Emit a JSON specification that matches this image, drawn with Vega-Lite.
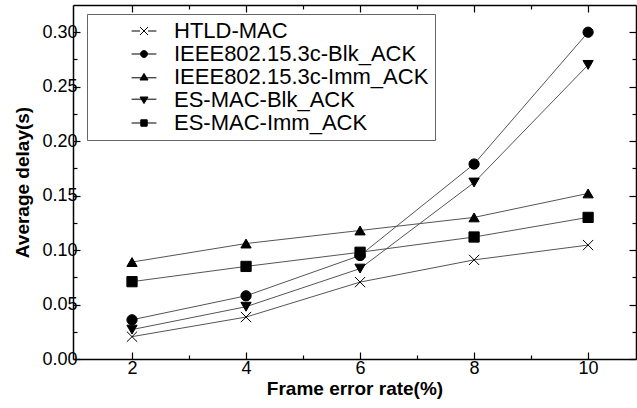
{
  "$schema": "https://vega.github.io/schema/vega-lite/v6.json",
  "width": 563,
  "height": 354,
  "autosize": {"type": "none"},
  "padding": {"left": 73, "top": 5, "right": 1, "bottom": 49},
  "background": "white",
  "config": {
    "view": {"stroke": null},
    "font": "Liberation Sans",
    "axis": {
      "domainColor": "black",
      "domainWidth": 1.5,
      "tickColor": "black",
      "tickWidth": 1.2,
      "grid": false,
      "labelFont": "Liberation Sans",
      "labelFontSize": 18,
      "labelColor": "black",
      "titleFont": "Liberation Sans",
      "titleFontSize": 19,
      "titleFontWeight": "bold",
      "titleColor": "black"
    },
    "legend": {
      "labelFont": "Liberation Sans",
      "labelFontSize": 22,
      "labelColor": "black",
      "labelLimit": 500
    }
  },
  "data": {
    "values": [
      {"x": 2, "y": 0.0205, "s": "HTLD-MAC"},
      {"x": 4, "y": 0.0385, "s": "HTLD-MAC"},
      {"x": 6, "y": 0.0706, "s": "HTLD-MAC"},
      {"x": 8, "y": 0.091, "s": "HTLD-MAC"},
      {"x": 10, "y": 0.1046, "s": "HTLD-MAC"},
      {"x": 2, "y": 0.036, "s": "IEEE802.15.3c-Blk_ACK"},
      {"x": 4, "y": 0.058, "s": "IEEE802.15.3c-Blk_ACK"},
      {"x": 6, "y": 0.095, "s": "IEEE802.15.3c-Blk_ACK"},
      {"x": 8, "y": 0.179, "s": "IEEE802.15.3c-Blk_ACK"},
      {"x": 10, "y": 0.300, "s": "IEEE802.15.3c-Blk_ACK"},
      {"x": 2, "y": 0.089, "s": "IEEE802.15.3c-Imm_ACK"},
      {"x": 4, "y": 0.106, "s": "IEEE802.15.3c-Imm_ACK"},
      {"x": 6, "y": 0.118, "s": "IEEE802.15.3c-Imm_ACK"},
      {"x": 8, "y": 0.130, "s": "IEEE802.15.3c-Imm_ACK"},
      {"x": 10, "y": 0.152, "s": "IEEE802.15.3c-Imm_ACK"},
      {"x": 2, "y": 0.027, "s": "ES-MAC-Blk_ACK"},
      {"x": 4, "y": 0.048, "s": "ES-MAC-Blk_ACK"},
      {"x": 6, "y": 0.083, "s": "ES-MAC-Blk_ACK"},
      {"x": 8, "y": 0.162, "s": "ES-MAC-Blk_ACK"},
      {"x": 10, "y": 0.270, "s": "ES-MAC-Blk_ACK"},
      {"x": 2, "y": 0.071, "s": "ES-MAC-Imm_ACK"},
      {"x": 4, "y": 0.085, "s": "ES-MAC-Imm_ACK"},
      {"x": 6, "y": 0.098, "s": "ES-MAC-Imm_ACK"},
      {"x": 8, "y": 0.112, "s": "ES-MAC-Imm_ACK"},
      {"x": 10, "y": 0.130, "s": "ES-MAC-Imm_ACK"}
    ]
  },
  "layer": [
    {
      "mark": {"type": "line", "color": "#555555", "strokeWidth": 1},
      "encoding": {
        "x": {
          "field": "x", "type": "quantitative",
          "scale": {"domain": [0.965, 10.84], "nice": false, "zero": false},
          "axis": {
            "orient": "bottom",
            "title": "Frame error rate(%)",
            "values": [2, 3, 4, 5, 6, 7, 8, 9, 10],
            "labelExpr": "datum.value % 2 == 0 ? datum.label : ''",
            "tickSize": {"condition": {"test": "datum.value % 2 == 0", "value": -7}, "value": -4},
            "labelPadding": 7,
            "titlePadding": 2
          }
        },
        "y": {
          "field": "y", "type": "quantitative",
          "scale": {"domain": [0, 0.325], "nice": false},
          "axis": {
            "orient": "left",
            "title": "Average delay(s)",
            "values": [0, 0.025, 0.05, 0.075, 0.1, 0.125, 0.15, 0.175, 0.2, 0.225, 0.25, 0.275, 0.3],
            "labelExpr": "round(datum.value * 1000) % 50 == 0 ? format(datum.value, '.2f') : ''",
            "tickSize": {"condition": {"test": "round(datum.value * 1000) % 50 == 0", "value": -7}, "value": -4},
            "labelPadding": 3,
            "titlePadding": 9
          }
        },
        "detail": {"field": "s"}
      }
    },
    {
      "mark": {"type": "point", "filled": true, "fill": "black", "stroke": "black", "strokeWidth": 1, "opacity": 1, "size": 105},
      "encoding": {
        "x": {"field": "x", "type": "quantitative", "axis": null},
        "y": {"field": "y", "type": "quantitative", "axis": null},
        "shape": {
          "field": "s",
          "scale": {
            "domain": ["HTLD-MAC", "IEEE802.15.3c-Blk_ACK", "IEEE802.15.3c-Imm_ACK", "ES-MAC-Blk_ACK", "ES-MAC-Imm_ACK"],
            "range": ["M-1,-1L1,1M-1,1L1,-1", "circle", "triangle-up", "triangle-down", "square"]
          },
          "legend": null
        }
      }
    },
    {
      "mark": {"type": "point", "filled": true, "fill": "black", "stroke": "black", "strokeWidth": 1, "opacity": 0, "size": 64},
      "encoding": {
        "x": {
          "field": "x", "type": "quantitative",
          "axis": {
            "orient": "top", "title": null, "labels": false,
            "values": [2, 3, 4, 5, 6, 7, 8, 9, 10],
            "tickSize": {"condition": {"test": "datum.value % 2 == 0", "value": -7}, "value": -4}
          }
        },
        "y": {
          "field": "y", "type": "quantitative",
          "axis": {
            "orient": "right", "title": null, "labels": false,
            "values": [0, 0.025, 0.05, 0.075, 0.1, 0.125, 0.15, 0.175, 0.2, 0.225, 0.25, 0.275, 0.3],
            "tickSize": {"condition": {"test": "round(datum.value * 1000) % 50 == 0", "value": -7}, "value": -4}
          }
        },
        "shape": {
          "field": "s",
          "scale": {
            "domain": ["HTLD-MAC", "IEEE802.15.3c-Blk_ACK", "IEEE802.15.3c-Imm_ACK", "ES-MAC-Blk_ACK", "ES-MAC-Imm_ACK"],
            "range": [
              "M-3.1,0H-1M1,0H3.1M-1,-1L1,1M-1,1L1,-1",
              "M-3.1,0H3.1M0.85,0A0.85,0.85 0 1,1 -0.85,0A0.85,0.85 0 1,1 0.85,0Z",
              "M-3.1,0.2H3.1M0,-0.9L1,0.75L-1,0.75Z",
              "M-3.1,-0.2H3.1M0,0.9L1,-0.75L-1,-0.75Z",
              "M-3.1,0H3.1M-0.8,-0.8H0.8V0.8H-0.8Z"
            ]
          },
          "legend": {
            "title": null,
            "orient": "none",
            "legendX": 14,
            "legendY": 9,
            "symbolOpacity": 1,
            "symbolFillColor": "black",
            "symbolStrokeColor": "black",
            "symbolStrokeWidth": 1,
            "symbolSize": 64,
            "symbolOffset": 40,
            "labelOffset": 19,
            "padding": 6,
            "rowPadding": 1,
            "strokeColor": "#666666",
            "fillColor": "white",
            "encoding": {
              "symbols": {
                "stroke": {"value": "black"},
                "strokeWidth": {"value": 1},
                "strokeOpacity": {"value": 1},
                "fill": {"value": "black"},
                "fillOpacity": {"value": 1},
                "opacity": {"value": 1}
              }
            }
          }
        }
      }
    }
  ],
  "resolve": {
    "scale": {"shape": "independent"},
    "axis": {"x": "independent", "y": "independent"}
  }
}
